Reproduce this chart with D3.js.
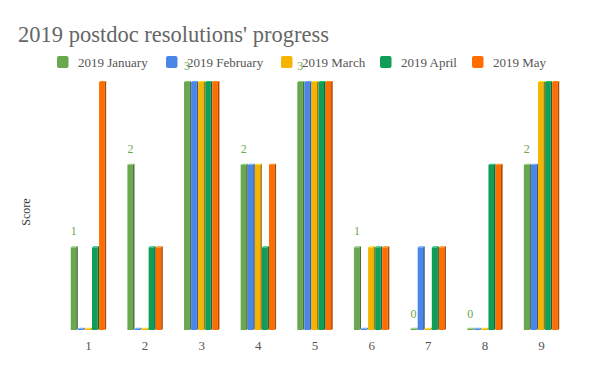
<!DOCTYPE html>
<html>
<head>
<meta charset="utf-8">
<script src="https://cdn.jsdelivr.net/npm/d3@7"></script>
<style>
body{margin:0;background:#fff}
svg{display:block}
</style>
</head>
<body>
<svg id="chart" width="600" height="371"></svg>
<script>
var categories = ["1","2","3","4","5","6","7","8","9"];
var seriesNames = ["2019 January","2019 February","2019 March","2019 April","2019 May"];
var seriesColors = ["#6aa84f","#4a86e8","#f6b400","#0f9d58","#ff6d00"];
var january  = [1,2,3,2,3,1,0,0,2];
var february = [0,0,3,2,3,0,1,0,2];
var march    = [0,0,3,2,3,1,0,0,3];
var april    = [1,1,3,1,3,1,1,2,3];
var may      = [3,1,3,2,3,1,1,2,3];
var allSeries = [january,february,march,april,may];

var svg = d3.select("#chart");
var font = "'Liberation Serif', Georgia, serif";

var x0 = d3.scaleBand().domain(categories).range([60,570]).paddingInner(0.375).paddingOuter(0.19);
var x1 = d3.scaleBand().domain(d3.range(5)).range([0,x0.bandwidth()]);
var y = d3.scaleLinear().domain([0,3]).range([330,82]);

svg.append("text")
  .attr("x",18).attr("y",42)
  .style("font-family",font).style("font-size","22.5px").style("fill","#666")
  .text("2019 postdoc resolutions' progress");

// legend
var legendX = [57,166,281,380,472];
var lg = svg.append("g").selectAll("g").data(seriesNames).enter().append("g")
  .attr("transform",function(d,i){return "translate("+legendX[i]+",56)"});
lg.append("rect").attr("width",11.5).attr("height",12).attr("rx",2)
  .attr("fill",function(d,i){return seriesColors[i]});
lg.append("text").attr("x",21).attr("y",10.5)
  .style("font-family",font).style("font-size","13px").style("fill","#555")
  .text(function(d){return d});

// bars
var base = y(0);
var groups = svg.append("g").selectAll("g").data(categories).enter().append("g")
  .attr("transform",function(d){return "translate("+x0(d)+",0)"});

groups.each(function(cat,ci){
  var g = d3.select(this);
  allSeries.forEach(function(vals,si){
    var v = vals[ci];
    var c = seriesColors[si];
    var bx = x1(si), w = x1.bandwidth();
    var fw = w - 1.6;
    var top = Math.min(y(v), base - 1.2);
    g.append("rect").attr("x",bx).attr("y",top).attr("width",fw).attr("height",base-top).attr("fill",c);
    g.append("polygon")
      .attr("points",[[bx+fw,top],[bx+w,top-1],[bx+w,base-1],[bx+fw,base]].join(" "))
      .attr("fill",d3.color(c).darker(1.1));
    g.append("polygon")
      .attr("points",[[bx,top],[bx+1.6,top-1],[bx+w,top-1],[bx+fw,top]].join(" "))
      .attr("fill",d3.color(c).brighter(0.6));
  });
  // data label for January series
  g.append("text")
    .attr("x",x1(0)+x1.bandwidth()/2 - 0.5).attr("y",y(january[ci]) - 12)
    .attr("text-anchor","middle")
    .style("font-family",font).style("font-size","12px").style("fill","#6aa84f")
    .text(january[ci]);
});

// x axis labels
svg.append("g").selectAll("text").data(categories).enter().append("text")
  .attr("x",function(d){return x0(d)+x0.bandwidth()/2})
  .attr("y",350)
  .attr("text-anchor","middle")
  .style("font-family",font).style("font-size","13px").style("fill","#555")
  .text(function(d){return d});

svg.append("text")
  .attr("transform","translate(30,212) rotate(-90)")
  .attr("text-anchor","middle")
  .style("font-family",font).style("font-size","12px").style("fill","#333")
  .text("Score");
</script>
</body>
</html>
